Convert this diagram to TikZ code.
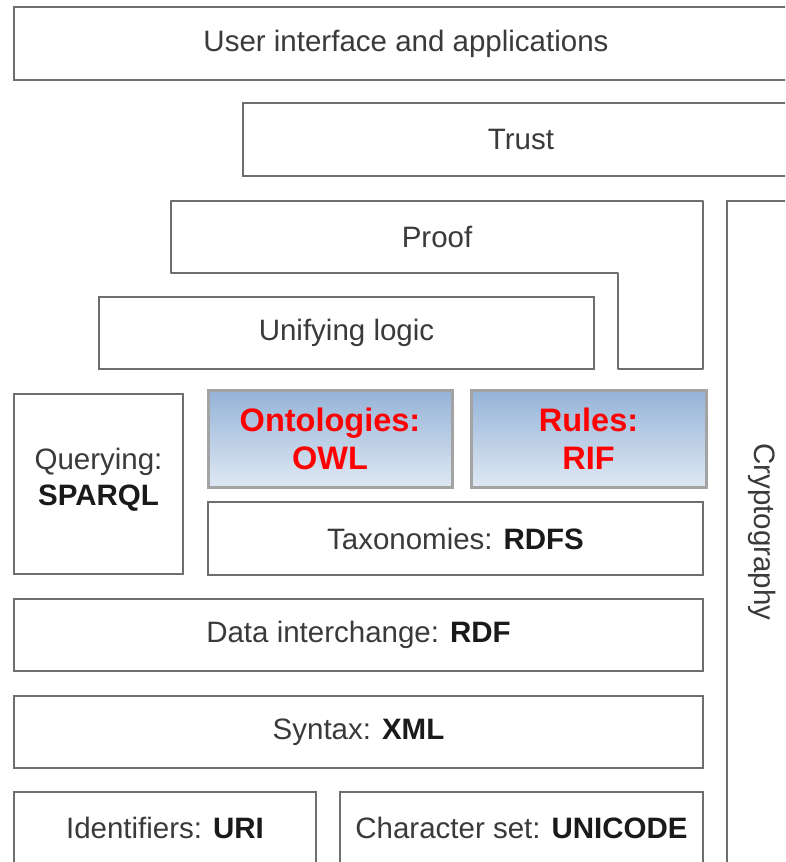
\documentclass[tikz,border=0pt]{standalone}
\usepackage{fontspec}
\setmainfont{Liberation Sans}
\definecolor{edge}{HTML}{6E6E6E}
\definecolor{txt}{HTML}{3A3A3A}
\definecolor{boldtxt}{HTML}{1A1A1A}
\definecolor{shadetop}{HTML}{95B3D7}
\definecolor{shadebot}{HTML}{DFE8F3}
\definecolor{shadeedge}{HTML}{A3A3A3}
\newcommand{\bx}[1]{\textbf{\color{boldtxt}#1}}
\tikzset{
  x=1pt, y=-1pt,
  layer/.style={draw=edge, line width=1.6pt, rectangle, inner sep=0pt,
    text=txt, font=\fontsize{29.5}{36}\selectfont, align=center},
  label/.style={text=txt, font=\fontsize{29.5}{36}\selectfont, inner sep=0pt, align=center},
  hilite/.style={draw=shadeedge, line width=3pt, rectangle, inner sep=0pt,
    top color=shadetop, bottom color=shadebot, text=red,
    font=\fontsize{32.5}{38}\selectfont\bfseries, align=center},
}
\begin{document}
\begin{tikzpicture}
\useasboundingbox (0,0) rectangle (785,862);
\clip (0,0) rectangle (785,862);
\fill[white] (0,0) rectangle (785,862);

% top layers (open to the right)
\node[layer, minimum width=784pt, minimum height=73pt] (ui) at (406,43.5) {User interface and applications};
\node[layer, minimum width=556pt, minimum height=73pt] (trust) at (521,139.5) {Trust};

% proof layer: L-shaped outline
\draw[edge, line width=1.6pt, line join=round]
  (171,201) -- (703,201) -- (703,369) -- (618,369) -- (618,273) -- (171,273) -- cycle;
\node[label] (proof) at (437,237) {Proof};

\node[layer, minimum width=495pt, minimum height=72pt] (logic) at (346.5,333) {Unifying logic};

% cryptography column
\draw[edge, line width=1.6pt] (800,201) -- (727,201) -- (727,900);
\node[label, rotate=-90] (crypto) at (762,532) {Cryptography};

% ontology and rules layers
\node[hilite, minimum width=244pt, minimum height=97pt] (owl) at (330,438.5) {Ontologies:\\OWL};
\node[hilite, minimum width=235pt, minimum height=97pt] (rif) at (588.5,438.5) {Rules:\\RIF};

\node[layer, minimum width=169pt, minimum height=180pt] (sparql) at (98.5,484) {};
\node[label] (sparqltext) at (98.5,480) {Querying:\\\bx{SPARQL}};

\node[layer, minimum width=495pt, minimum height=73pt] (rdfs) at (455.5,538.5) {Taxonomies: \bx{RDFS}};
\node[layer, minimum width=689pt, minimum height=72pt] (rdf) at (358.5,635) {Data interchange: \bx{RDF}};
\node[layer, minimum width=689pt, minimum height=72pt] (xml) at (358.5,732) {Syntax: \bx{XML}};
\node[layer, minimum width=302pt, minimum height=72pt] (uri) at (165,828) {Identifiers: \bx{URI}};
\node[layer, minimum width=363pt, minimum height=72pt] (unicode) at (521.5,828) {Character set: \bx{UNICODE}};
\end{tikzpicture}
\end{document}
